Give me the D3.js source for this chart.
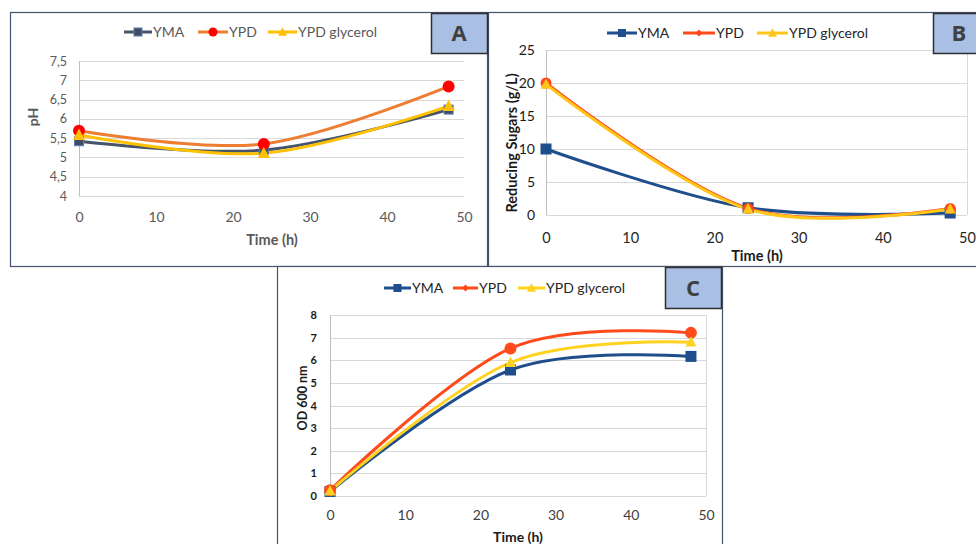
<!DOCTYPE html>
<html><head><meta charset="utf-8">
<script src="https://cdn.jsdelivr.net/npm/d3@7"></script>
<style>html,body{margin:0;padding:0;background:#fff;}svg{display:block;font-family:Lato,"Open Sans",sans-serif;}</style>
</head><body>
<svg id="chart" width="976" height="544"></svg>
<script>
// ---- data ----
const time = [0, 24, 48];
const seriesNames = ["YMA", "YPD", "YPD glycerol"];
// Panel A: pH
const phYMA = [5.42, 5.19, 6.24];
const phYPD = [5.69, 5.35, 6.84];
const phGly = [5.58, 5.11, 6.33];
// Panel B: Reducing sugars (g/L)
const sugYMA = [10.0, 1.1, 0.3];
const sugYPD = [20.0, 1.0, 1.0];
const sugGly = [19.8, 0.9, 0.9];
// Panel C: OD 600 nm
const odYMA = [0.2, 5.57, 6.17];
const odYPD = [0.25, 6.52, 7.21];
const odGly = [0.22, 5.9, 6.8];
// tick labels
const xTicks = [0, 10, 20, 30, 40, 50];
const phTicks = [4, 4.5, 5, 5.5, 6, 6.5, 7, 7.5];
const sugTicks = [0, 5, 10, 15, 20, 25];
const odTicks = [0, 1, 2, 3, 4, 5, 6, 7, 8];

const svg = d3.select("#chart");

function marker(g, type, x, y, size, fill, stroke) {
  if (type === "square") {
    g.append("rect").attr("x", x - size / 2).attr("y", y - size / 2).attr("width", size).attr("height", size)
      .attr("fill", fill).attr("stroke", stroke || "none").attr("stroke-width", stroke ? 1 : 0);
  } else if (type === "circle") {
    g.append("circle").attr("cx", x).attr("cy", y).attr("r", size / 2).attr("fill", fill);
  } else if (type === "triangle") {
    const h = size * 0.9;
    g.append("path").attr("d", `M${x},${y - h * 0.6}L${x + size / 2},${y + h * 0.45}L${x - size / 2},${y + h * 0.45}Z`).attr("fill", fill);
  } else if (type === "diamond") {
    const s = size / 2;
    g.append("path").attr("d", `M${x},${y - s}L${x + s},${y}L${x},${y + s}L${x - s},${y}Z`).attr("fill", fill);
  }
}

function panel(cfg) {
  const g = svg.append("g");
  g.append("rect").attr("x", cfg.box[0] + 0.5).attr("y", cfg.box[1] + 0.5).attr("width", cfg.box[2]).attr("height", cfg.box[3])
    .attr("fill", "#fff").attr("stroke", "#44546a").attr("stroke-width", 1.2);
  const x = d3.scaleLinear().domain([0, 50]).range(cfg.xr);
  const y = d3.scaleLinear().domain(cfg.yd).range(cfg.yr);
  g.append("g").selectAll("line").data(cfg.yTicks).join("line")
    .attr("x1", cfg.xr[0]).attr("x2", cfg.xr[1]).attr("y1", d => Math.round(y(d)) + 0.5).attr("y2", d => Math.round(y(d)) + 0.5)
    .attr("stroke", "#d9d9d9").attr("stroke-width", 1);
  g.append("line").attr("x1", Math.round(cfg.xr[0]) + 0.5).attr("x2", Math.round(cfg.xr[0]) + 0.5).attr("y1", cfg.yr[0]).attr("y2", cfg.yr[1]).attr("stroke", "#bfbfbf");
  if (cfg.rightBorder) g.append("line").attr("x1", Math.round(cfg.xr[1]) + 0.5).attr("x2", Math.round(cfg.xr[1]) + 0.5).attr("y1", cfg.yr[0]).attr("y2", cfg.yr[1]).attr("stroke", "#d9d9d9");
  const yAxis = d3.axisLeft(y).tickValues(cfg.yTicks).tickSize(0).tickPadding(0)
    .tickFormat(d => String(d).replace(".", ","));
  const ya = g.append("g").attr("transform", `translate(${cfg.yLabelX},0)`).call(yAxis);
  ya.select(".domain").remove();
  ya.selectAll("text").attr("font-family", "Lato, 'Open Sans', sans-serif").attr("font-size", cfg.yFont).attr("fill", cfg.yColor)
    .attr("font-weight", cfg.yBold ? "bold" : "normal");
  const xAxis = d3.axisBottom(x).tickValues(xTicks).tickSize(0).tickPadding(0);
  const xa = g.append("g").attr("transform", `translate(0,${cfg.xLabelY})`).call(xAxis);
  xa.select(".domain").remove();
  xa.selectAll("text").attr("font-family", "Lato, 'Open Sans', sans-serif").attr("font-size", cfg.xFont).attr("fill", cfg.xColor).attr("dy", "0");
  g.append("text").attr("x", cfg.xTitle[0]).attr("y", cfg.xTitle[1]).attr("text-anchor", "middle").attr("font-weight", "bold")
    .attr("font-size", cfg.titleFont).attr("fill", cfg.titleColor).text("Time (h)");
  g.append("text").attr("transform", `translate(${cfg.yTitle[0]},${cfg.yTitle[1]}) rotate(-90)`).attr("text-anchor", "middle").attr("font-weight", "bold")
    .attr("font-size", cfg.yTitleFont).attr("fill", cfg.titleColor).text(cfg.yTitleText);
  const line = d3.line().x((d, i) => x(time[i])).y(d => y(d)).curve(d3.curveCardinal.tension(0));
  cfg.series.forEach(s => {
    g.append("path").attr("d", line(s.values)).attr("fill", "none").attr("stroke", s.line).attr("stroke-width", cfg.lw);
  });
  cfg.series.forEach(s => {
    s.values.forEach((v, i) => marker(g, s.marker, x(time[i]), y(v), s.msize, s.mfill, s.mstroke));
  });
  cfg.series.forEach((s, i) => {
    const [x0, x1] = cfg.legend[i];
    g.append("line").attr("x1", x0).attr("x2", x1).attr("y1", cfg.legendY).attr("y2", cfg.legendY).attr("stroke", s.line).attr("stroke-width", cfg.lw);
    marker(g, s.legendMarker || s.marker, (x0 + x1) / 2, cfg.legendY, s.lsize, s.mfill, s.mstroke);
    g.append("text").attr("x", x1 + 1).attr("y", cfg.legendY + cfg.legendFont * 0.36).attr("font-size", cfg.legendFont).attr("fill", cfg.legendColor).text(seriesNames[i]);
  });
  g.append("rect").attr("x", cfg.lab[0] + 0.5).attr("y", cfg.lab[1] + 0.5).attr("width", cfg.lab[2]).attr("height", cfg.lab[3])
    .attr("fill", "#a9bfe4").attr("stroke", "#2f2f2f").attr("stroke-width", 1.5);
  g.append("text").attr("x", cfg.lab[0] + cfg.labTextX).attr("y", cfg.lab[1] + cfg.lab[3] / 2 + 8).attr("text-anchor", "middle")
    .attr("font-family", "'Open Sans', sans-serif").attr("font-weight", "bold").attr("font-size", 22).attr("fill", "#404040").text(cfg.letter);
}

// Panel B
panel({
  box: [488, 12, 492, 254], xr: [546, 967], yd: [0, 25], yr: [215, 50], yTicks: sugTicks,
  yLabelX: 535, yFont: 14, yColor: "#1a1a1a", xLabelY: 243, xFont: 14.5, xColor: "#262626",
  xTitle: [757, 261], yTitle: [517, 143], titleFont: 14.5, yTitleFont: 14.5, titleColor: "#1a1a1a", yTitleText: "Reducing Sugars (g/L)",
  lw: 3, legendY: 33, legendFont: 14, legendColor: "#262626",
  legend: [[607, 637], [683, 715], [757, 788]],
  lab: [933, 13, 45, 40], labTextX: 26, letter: "B", rightBorder: true,
  series: [
    { values: sugYMA, line: "#1f4e8c", marker: "square", msize: 11, mfill: "#1f4e8c", lsize: 8 },
    { values: sugYPD, line: "#ff4a1c", marker: "circle", legendMarker: "diamond", msize: 11, mfill: "#ff4a1c", lsize: 7 },
    { values: sugGly, line: "#ffc61a", marker: "triangle", msize: 11, mfill: "#ffc61a", lsize: 9 }
  ]
});

// Panel A
panel({
  box: [10, 12, 477, 254], xr: [79, 464], yd: [4, 7.5], yr: [196, 61], yTicks: phTicks,
  yLabelX: 67, yFont: 12.5, yColor: "#595959", xLabelY: 222, xFont: 14, xColor: "#595959",
  xTitle: [272, 245], yTitle: [38, 117], titleFont: 14.5, yTitleFont: 14, titleColor: "#595959", yTitleText: "pH",
  lw: 3, legendY: 32, legendFont: 14, legendColor: "#595959",
  legend: [[124, 152], [198, 228], [268, 297]],
  lab: [431, 13, 56, 40], labTextX: 28, letter: "A", rightBorder: false,
  series: [
    { values: phYMA, line: "#44546a", marker: "square", msize: 9, mfill: "#3e4d63", mstroke: "#5b7fb0", lsize: 8 },
    { values: phYPD, line: "#ed7d31", marker: "circle", msize: 12, mfill: "#ff0000", lsize: 9 },
    { values: phGly, line: "#ffc000", marker: "triangle", msize: 12, mfill: "#ffc000", lsize: 9 }
  ]
});

// Panel C
panel({
  box: [277, 266, 445, 282], xr: [330, 706], yd: [0, 8], yr: [496, 315], yTicks: odTicks,
  yLabelX: 317, yFont: 11, yColor: "#1a1a1a", yBold: true, xLabelY: 520, xFont: 14, xColor: "#404040",
  xTitle: [518, 542], yTitle: [307, 398], titleFont: 14, yTitleFont: 12.5, titleColor: "#1a1a1a", yTitleText: "OD 600 nm",
  lw: 3, legendY: 288, legendFont: 14, legendColor: "#262626",
  legend: [[384, 411], [453, 478], [518, 545]],
  lab: [665, 267, 56, 41], labTextX: 28, letter: "C", rightBorder: true,
  series: [
    { values: odYMA, line: "#1f4e8c", marker: "square", msize: 11, mfill: "#1f4e8c", lsize: 8 },
    { values: odYPD, line: "#ff4a1c", marker: "circle", legendMarker: "diamond", msize: 12, mfill: "#ff4a1c", lsize: 7 },
    { values: odGly, line: "#ffd21f", marker: "triangle", msize: 11, mfill: "#ffd21f", lsize: 9 }
  ]
});
</script>
</body></html>
